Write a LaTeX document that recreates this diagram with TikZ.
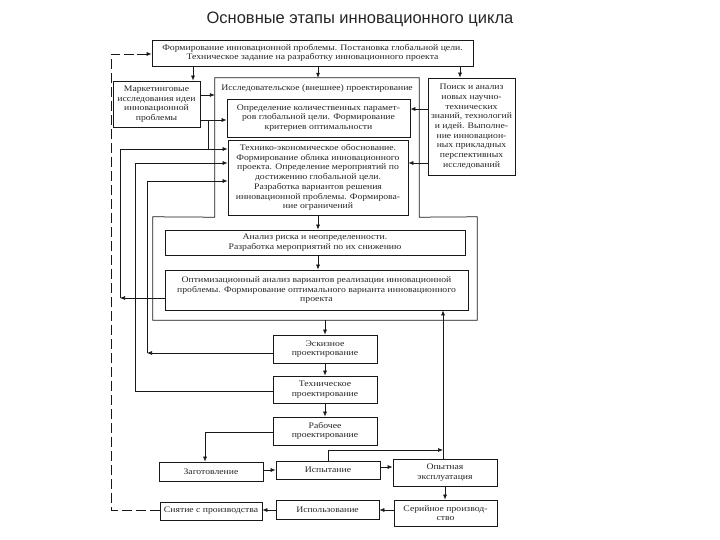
\documentclass[tikz,border=0pt]{standalone}
\usepackage{fontspec}
\setmainfont{Liberation Serif}
\newfontfamily\titlefam{Liberation Sans}
\newfontfamily\boxfam[FakeStretch=1.14]{Liberation Serif}
\usetikzlibrary{arrows.meta,calc}
\newcommand\boxfnt{\boxfam\fontsize{8.5}{9.7}\selectfont}
\begin{document}
\begin{tikzpicture}[x=1pt,y=-1pt,
  box/.style={draw=black!90,line width=0.75pt,inner sep=0pt,align=center,font=\boxfnt,text=black!85},
  ln/.style={draw=black!90,line width=0.65pt},
  arr/.style={ln,-{Latex[length=5pt,width=4pt]}},
  dashln/.style={ln,dash pattern=on 10pt off 4pt}]
\useasboundingbox[fill=white] (0,0) rectangle (720,540);
% title
\node[font=\titlefam\fontsize{16.5}{19}\selectfont,text=black!85] (title) at (360,19) {Основные этапы инновационного цикла};
% top box
\node[box,minimum width=321pt,minimum height=26pt] (top) at (312.5,53)
 {Формирование инновационной проблемы. Постановка глобальной цели.\\Техническое задание на разработку инновационного проекта};
\node[box,minimum width=87pt,minimum height=46pt] (mark) at (156.5,104)
 {Маркетинговые\\исследования идеи\\инновационной\\проблемы};
\node[box,minimum width=87pt,minimum height=97pt] (poisk) at (471.5,126.5)
 {Поиск и анализ\\новых научно-\\технических\\знаний, технологий\\и идей. Выполне-\\ние инновацион-\\ных прикладных\\перспективных\\исследований};
% outline frames
\node[inner sep=0pt,minimum width=204pt,minimum height=139pt] (res) at (317,147.5) {};
\node[inner sep=0pt,minimum width=324pt,minimum height=103pt] (big) at (315,268.5) {};
\draw[ln,line width=0.75pt] (big.north west) -- (res.south west) -- (res.north west) -- (res.north east)
  -- (res.south east) -- (big.north east) -- (big.south east) -- (big.south west) -- cycle;
\node[font=\boxfnt,text=black!85,inner sep=0pt] (reshead) at (317,88) {Исследовательское (внешнее) проектирование};
\node[box,minimum width=183pt,minimum height=38pt] (opr) at (318.5,118)
 {Определение количественных парамет-\\ров глобальной цели. Формирование\\критериев оптимальности};
\node[box,minimum width=180pt,minimum height=75pt] (tech) at (318,177.5)
 {Технико-экономическое обоснование.\\Формирование облика инновационного\\проекта. Определение мероприятий по\\достижению глобальной цели.\\Разработка вариантов решения\\инновационной проблемы. Формирова-\\ние ограничений};
\node[box,minimum width=300pt,minimum height=25pt] (anal) at (315,242.5)
 {Анализ риска и неопределенности.\\Разработка мероприятий по их снижению};
\node[box,minimum width=303pt,minimum height=40pt] (opt) at (316.5,290)
 {Оптимизационный анализ вариантов реализации инновационной\\проблемы. Формирование оптимального варианта инновационного\\проекта};
% chain
\node[box,minimum width=104pt,minimum height=28pt] (esk) at (325,349) {Эскизное\\проектирование};
\node[box,minimum width=104pt,minimum height=27pt] (techp) at (325,389.5) {Техническое\\проектирование};
\node[box,minimum width=104pt,minimum height=28pt] (rab) at (325,431) {Рабочее\\проектирование};
\node[box,minimum width=104pt,minimum height=19pt] (zag) at (211,471.5) {Заготовление};
\node[box,minimum width=104pt,minimum height=18pt] (isp) at (328,470) {Испытание};
\node[box,minimum width=104pt,minimum height=27pt] (opyt) at (445,472.5) {Опытная\\эксплуатация};
\node[box,minimum width=103pt,minimum height=26pt] (ser) at (445.5,513) {Серийное производ-\\ство};
\node[box,minimum width=103pt,minimum height=19pt] (ispol) at (327.5,509.5) {Использование};
\node[box,minimum width=102pt,minimum height=18pt] (snyat) at (211,511) {Снятие с производства};
% helper coordinates
\coordinate (x193) at (193,0);
\coordinate (x318) at (318,0);
\coordinate (x460) at (460,0);
\coordinate (x443) at (443,0);
\coordinate (x445) at (445,0);
\coordinate (x208) at (208,0);
\coordinate (y95) at (0,95);
\coordinate (y120) at (0,120);
\coordinate (y109) at (0,109);
\coordinate (y149) at (0,149);
\coordinate (y163) at (0,163);
\coordinate (y181) at (0,181);
\coordinate (y298) at (0,298);
\coordinate (y353) at (0,353);
\coordinate (y391) at (0,391);
\coordinate (y432) at (0,432);
\coordinate (y450) at (0,450);
\coordinate (y470) at (0,470);
\coordinate (y467) at (0,467);
\coordinate (y510) at (0,510);
\coordinate (y54) at (0,54);
\coordinate (L1) at (120,298);
\coordinate (L2) at (135,391);
\coordinate (L3) at (147,353);
\coordinate (R1) at (205,432);
\coordinate (D1) at (111,510);
\coordinate (D2) at (111,54);
% arrows from top box
\draw[arr] (top.south -| x193) -- (mark.north -| x193);
\draw[arr] (top.south -| x318) -- (res.north -| x318);
\draw[arr] (top.south -| x460) -- (poisk.north -| x460);
% marketing
\draw[arr] (mark.east |- y95) -- (res.west |- y95);
\draw[arr] (mark.east |- y120) -- (opr.west |- y120);
\draw[ln] (x208 |- y120) -- (x208 |- y149);
% poisk
\draw[arr] (poisk.west |- y109) -- (opr.east |- y109);
\draw[arr] (poisk.west |- y163) -- (tech.east |- y163);
% feedback loops
\draw[arr] (opt.west |- y298) -- (L1);
\draw[arr] (L1) |- (tech.west |- y149);
\draw[ln] (techp.west |- y391) -- (L2);
\draw[arr] (L2) |- (tech.west |- y163);
\draw[arr] (esk.west |- y353) -- (L3);
\draw[arr] (L3) |- (tech.west |- y181);
% main chain
\draw[arr] (tech.south -| x318) -- (anal.north -| x318);
\draw[arr] (anal.south -| x318) -- (opt.north -| x318);
\draw[arr] (big.south -| esk.north) -- (esk.north);
\draw[arr] (esk) -- (techp);
\draw[arr] (techp) -- (rab);
\draw[ln] (rab.west |- y432) -- (R1);
\draw[arr] (R1) -- (zag.north -| R1);
\draw[arr] (zag.east |- y470) -- (isp.west |- y470);
\draw[arr] (isp.east |- y467) -- (opyt.west |- y467);
\draw[arr] (isp.north) |- (x443 |- y450);
\draw[arr] (opyt.north -| x443) -- (opt.south -| x443);
\draw[arr] (opyt.south -| x445) -- (ser.north -| x445);
\draw[arr] (ser.west |- y510) -- (ispol.east |- y510);
\draw[arr] (ispol.west |- y510) -- (snyat.east |- y510);
% dashed return
\draw[dashln] (snyat.west |- y510) -- (D1) -- (D2) -- ($(top.west |- y54)+(-15,0)$);
\draw[arr] ($(top.west |- y54)+(-15,0)$) -- (top.west |- y54);
\end{tikzpicture}
\end{document}
